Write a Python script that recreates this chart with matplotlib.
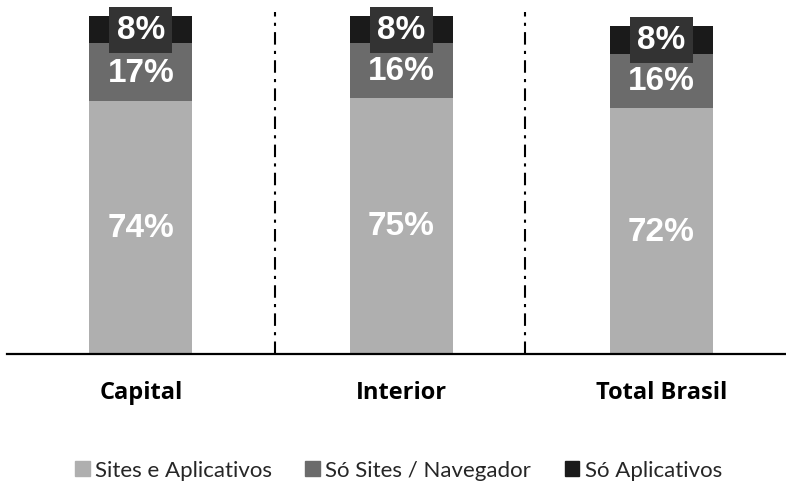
import matplotlib.pyplot as plt
import numpy as np
from matplotlib.patches import Patch

categories = ['Capital', 'Interior', 'Total Brasil']
sites_e_apps = [74, 75, 72]
so_sites = [17, 16, 16]
so_apps = [8, 8, 8]
series_names = ['Sites e Aplicativos', 'Só Sites / Navegador', 'Só Aplicativos']
colors = ['#afafaf', '#6b6b6b', '#1a1a1a']

fig = plt.figure(figsize=(7.86, 4.85), dpi=100)
# axes placed in pixel terms: x 7..786, y 10..355 from top
ax = fig.add_axes([7 / 786, 1 - 355 / 485, 779 / 786, 345 / 485])

x = np.arange(len(categories))
width = 0.396
bottom = np.zeros(len(categories))
for vals, col in zip([sites_e_apps, so_sites, so_apps], colors):
    ax.bar(x, vals, width, bottom=bottom, color=col, zorder=2)
    for xi, b, v in zip(x, bottom, vals):
        kw = {}
        if col == colors[2]:
            kw['bbox'] = dict(boxstyle='square,pad=0.22', fc='#333333', ec='none')
        ax.text(xi, b + v / 2, f'{v}%', ha='center', va='center', color='white',
                fontsize=24, fontweight='bold', family='Liberation Sans', zorder=3, **kw)
    bottom += np.array(vals)

ax.set_xlim(-0.515, 2.48)
ax.set_ylim(0, 345 / 3.414)

for sx in [0.515, 1.477]:
    ax.axvline(sx, ymin=0.0, ymax=0.99, color='black', lw=1.5, ls=(0, (6, 3, 1.5, 3)), zorder=1)

for s in ['top', 'right', 'left']:
    ax.spines[s].set_visible(False)
ax.spines['bottom'].set_linewidth(1.6)
ax.spines['bottom'].set_color('black')
ax.set_yticks([])
ax.set_xticks(x)
ax.set_xticklabels(categories, fontsize=17, fontweight='bold', family='Open Sans')
ax.tick_params(axis='x', length=0, pad=19)

handles = [Patch(color=c) for c in colors]
leg = fig.legend(handles, series_names, loc='center', bbox_to_anchor=(0.507, 1 - 471 / 485), ncol=3,
                 frameon=False, handlelength=0.65, handleheight=0.65, handletextpad=0.25, columnspacing=1.5,
                 prop={'family': 'Lato', 'size': 16})
for t in leg.get_texts():
    t.set_color('#262626')

fig.savefig('out.png', dpi=100)
